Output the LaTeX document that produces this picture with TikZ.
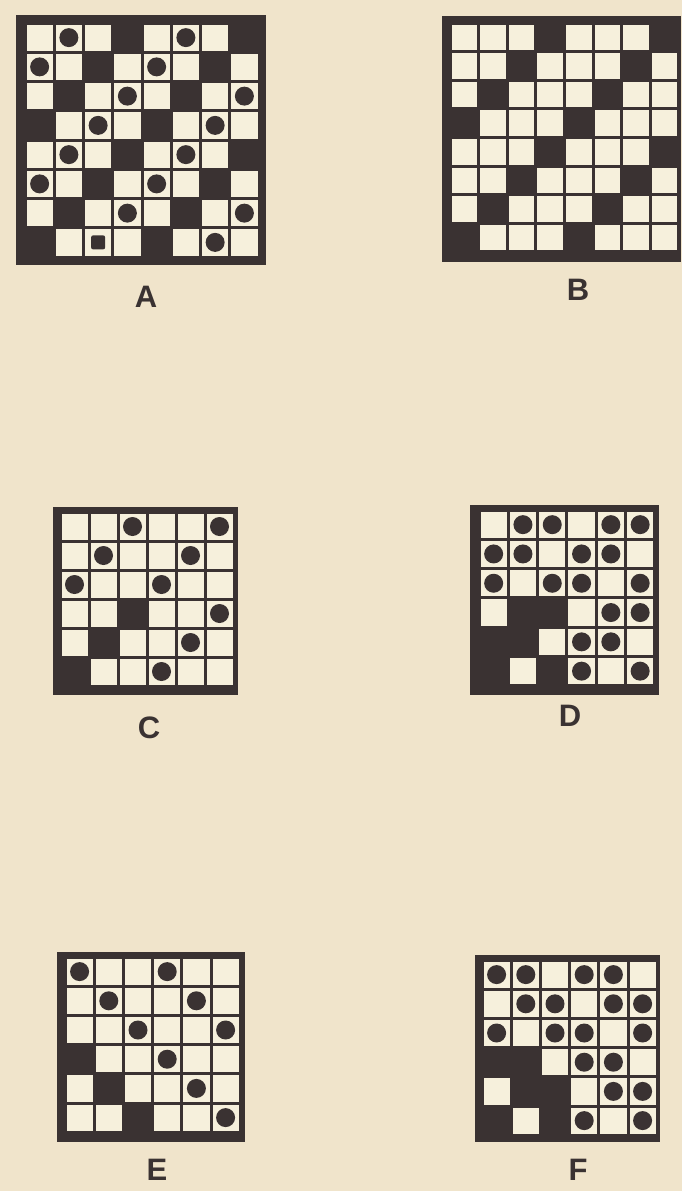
\documentclass[tikz,border=0pt]{standalone}
\usepackage{fontspec}
\setmainfont{Liberation Sans}
\definecolor{paper}{HTML}{F0E4CB}
\definecolor{cellc}{HTML}{F6F0DC}
\definecolor{ink}{HTML}{3A3232}
\tikzset{
  lab/.style={font=\fontsize{31}{31}\selectfont\bfseries, text=ink, inner sep=0pt, anchor=center},
}
% #1 gx, #2 gy, #3 pitch, #4 n, #5 dark list
\newcommand\boardcells[5]{%
  \foreach \r in {1,...,#4} \foreach \c in {1,...,#4}
    \fill[cellc] ({#1+(\c-1)*#3+1.5},{#2+(\r-1)*#3+1.5}) rectangle ++({#3-3},{#3-3});
  \foreach \r/\c in {#5}
    \fill[ink] ({#1+\c*#3},{#2+\r*#3}) rectangle ++(#3,#3);
}
% #1 gx, #2 gy, #3 pitch, #4 disc list
\newcommand\boarddiscs[4]{%
  \foreach \r/\c in {#4}
    \fill[ink] ({#1+(\c+0.5)*#3},{#2+(\r+0.5)*#3}) circle (9.5pt);
}
\begin{document}
\begin{tikzpicture}[x=1pt,y=-1pt]
\fill[paper] (0,0) rectangle (682,1191);
\useasboundingbox (0,0) rectangle (682,1191);

% Board A
\fill[ink] (16,15) rectangle (266,265);
\boardcells{25}{23}{29.25}{8}{0/3,0/7,1/2,1/6,2/1,2/5,3/0,3/4,4/3,4/7,5/2,5/6,6/1,6/5,7/0,7/4}
\boarddiscs{25}{23}{29.25}{0/1,0/5,1/0,1/4,2/3,2/7,3/2,3/6,4/1,4/5,5/0,5/4,6/3,6/7,7/6}
\fill[ink, rounded corners=2pt] ({25+2.5*29.25-7},{23+7.5*29.25-7}) rectangle ++(14,14);
\node[lab] (labA) at (146,297) {A};

% Board B
\fill[ink] (442,16) rectangle (681,262);
\boardcells{450}{23}{28.6}{8}{0/3,0/7,1/2,1/6,2/1,2/5,3/0,3/4,4/3,4/7,5/2,5/6,6/1,6/5,7/0,7/4}
\node[lab] (labB) at (578,290) {B};

% Board C
\fill[ink] (53,507) rectangle (238,695);
\boardcells{60}{512}{29}{6}{3/2,4/1,5/0}
\boarddiscs{60}{512}{29}{0/2,0/5,1/1,1/4,2/0,2/3,3/5,4/4,5/3}
\node[lab] (labC) at (149,728) {C};

% Board D
\fill[ink] (470,505) rectangle (659,695);
\boardcells{479}{510}{29.3}{6}{3/1,3/2,4/0,4/1,5/0,5/2}
\boarddiscs{479}{510}{29.3}{0/1,0/2,0/4,0/5,1/0,1/1,1/3,1/4,2/0,2/2,2/3,2/5,3/4,3/5,4/3,4/4,5/3,5/5}
\node[lab] (labD) at (570,716) {D};

% Board E
\fill[ink] (57,952) rectangle (245,1142);
\boardcells{65}{957}{29.2}{6}{3/0,4/1,5/2}
\boarddiscs{65}{957}{29.2}{0/0,0/3,1/1,1/4,2/2,2/5,3/3,4/4,5/5}
\node[lab] (labE) at (157,1170) {E};

% Board F
\fill[ink] (475,955) rectangle (660,1142);
\boardcells{482}{960}{29.2}{6}{3/0,3/1,4/1,4/2,5/0,5/2}
\boarddiscs{482}{960}{29.2}{0/0,0/1,0/3,0/4,1/1,1/2,1/4,1/5,2/0,2/2,2/3,2/5,3/3,3/4,4/4,4/5,5/3,5/5}
\node[lab] (labF) at (578,1170) {F};
\end{tikzpicture}
\end{document}
